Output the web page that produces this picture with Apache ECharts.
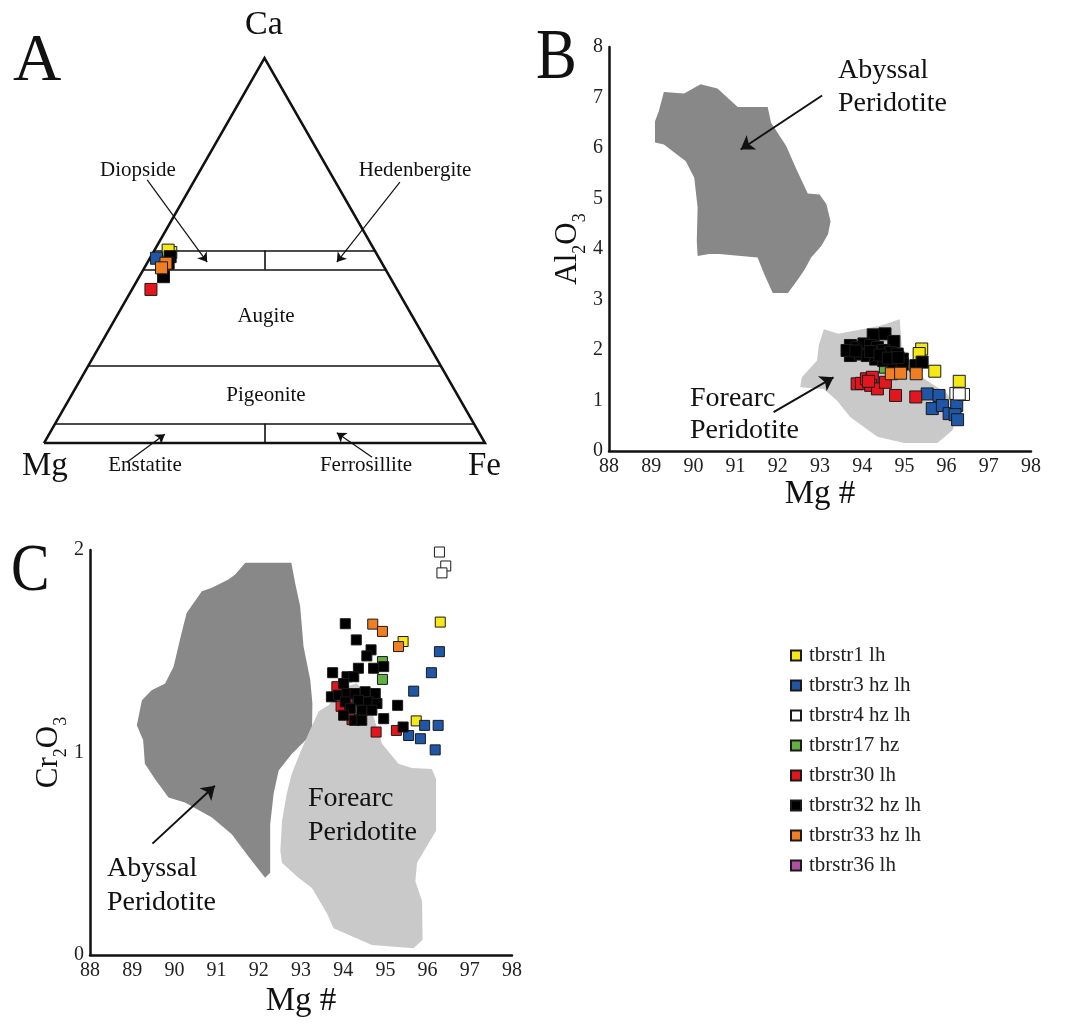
<!DOCTYPE html>
<html>
<head>
<meta charset="utf-8">
<script src="https://cdn.jsdelivr.net/npm/echarts@6/dist/echarts.min.js"></script>
<style>
  html, body { margin: 0; padding: 0; background: #fff; }
  #main { width: 1085px; height: 1025px; }
</style>
</head>
<body>
<div id="main"></div>
<script>
var myChart = echarts.init(document.getElementById('main'));
var SERIF = '"Liberation Serif", "Times New Roman", serif';

// samples (legend order) and their colours
var sampleNames = ['tbrstr1 lh', 'tbrstr3 hz lh', 'tbrstr4 hz lh', 'tbrstr17 hz',
                   'tbrstr30 lh', 'tbrstr32 hz lh', 'tbrstr33 hz lh', 'tbrstr36 lh'];
var sampleColors = ['#f6e817', '#1f56a6', '#ffffff', '#62b044',
                    '#e3161e', '#000000', '#f07e22', '#b04fa4'];

// A: pyroxene quadrilateral, compositions as [Ca, Mg, Fe]
var ternaryA = [
  [[0.495, 0.465, 0.040], [0.501, 0.468, 0.031]],
  [[0.480, 0.505, 0.015]],
  [],
  [],
  [[0.399, 0.558, 0.043]],
  [[0.484, 0.472, 0.044], [0.467, 0.485, 0.048], [0.432, 0.513, 0.055]],
  [[0.467, 0.490, 0.043], [0.455, 0.506, 0.039]],
  []
];
var triangleCorners = [[0, 1, 0], [0, 0, 1], [1, 0, 0], [0, 1, 0]];
var woBoundaries = [0.50, 0.45, 0.20, 0.05];
var tieLines = [
  [[0.45, 0.275, 0.275], [0.50, 0.25, 0.25]],
  [[0.00, 0.50, 0.50], [0.05, 0.475, 0.475]]
];
// arrows in the plane of the triangle (x along Mg-Fe, y height)
var arrowsA = [
  [[0.234, 0.592], [0.370, 0.407]],
  [[0.807, 0.587], [0.664, 0.407]],
  [[0.188, -0.043], [0.274, 0.020]],
  [[0.744, -0.032], [0.664, 0.023]]
];

// B: Mg# vs Al2O3
var mgAlB = [
  [[95.41, 2.02], [95.35, 1.93], [95.72, 1.58], [96.30, 1.38]],
  [[95.54, 1.13], [95.82, 1.10], [95.66, 0.84], [95.90, 0.90], [96.06, 0.74], [96.24, 0.90], [96.20, 0.72], [96.26, 0.62]],
  [[96.22, 1.14], [96.40, 1.12], [96.30, 1.13]],
  [[94.55, 1.66]],
  [[93.88, 1.33], [93.98, 1.34], [94.10, 1.43], [94.24, 1.46], [94.20, 1.30], [94.36, 1.23], [94.15, 1.38], [94.55, 1.36], [94.79, 1.10], [95.27, 1.07]],
  [[94.26, 2.30], [94.54, 2.32], [94.75, 2.17], [93.72, 2.09], [93.88, 2.05], [94.04, 2.12], [94.20, 2.09], [94.36, 2.05],
   [94.51, 1.99], [94.67, 1.95], [94.83, 1.92], [94.95, 1.82], [93.72, 1.89], [93.96, 1.92], [94.12, 1.89], [94.32, 1.82],
   [94.51, 1.79], [94.75, 1.76], [94.95, 1.72], [93.64, 1.99], [93.85, 1.98], [94.20, 1.97], [94.42, 1.90], [94.62, 1.84],
   [94.85, 1.85], [95.27, 1.69], [95.42, 1.76]],
  [[94.69, 1.53], [94.91, 1.54], [95.28, 1.53]],
  []
];
var abyssalB = [[89.30, 7.11], [89.78, 7.08], [90.17, 7.26], [90.57, 7.18], [91.05, 6.81], [91.76, 6.81], [91.84, 6.50],
  [92.20, 6.04], [92.44, 5.58], [92.71, 5.10], [92.99, 5.08], [93.15, 4.89], [93.25, 4.55], [93.19, 4.29], [93.03, 4.06],
  [92.79, 3.83], [92.64, 3.60], [92.48, 3.40], [92.24, 3.13], [91.88, 3.13], [91.68, 3.50], [91.52, 3.83], [90.61, 3.90],
  [90.37, 3.90], [90.10, 3.86], [90.08, 4.16], [90.10, 4.82], [90.02, 5.41], [89.82, 5.74], [89.30, 6.07], [89.09, 6.11],
  [89.09, 6.53], [89.18, 6.73]];
var forearcB = [[93.09, 2.41], [93.44, 2.32], [94.43, 2.48], [94.89, 2.61], [94.95, 1.92], [95.07, 1.66], [95.54, 1.39],
  [96.02, 1.13], [96.26, 0.74], [96.14, 0.41], [95.78, 0.16], [94.99, 0.16], [94.36, 0.28], [93.72, 0.67], [93.40, 1.00],
  [93.09, 1.23], [92.53, 1.26], [92.57, 1.46], [92.93, 1.79], [92.97, 2.09]];
var arrowsB = [
  [[93.05, 7.04], [91.12, 5.97]],
  [[91.90, 0.77], [93.32, 1.46]]
];

// C: Mg# vs Cr2O3
var mgCrC = [
  [[96.30, 1.644], [95.42, 1.548], [95.73, 1.156]],
  [[96.28, 1.498], [96.09, 1.394], [95.67, 1.303], [95.93, 1.134], [96.25, 1.134], [95.55, 1.084], [95.83, 1.068], [96.18, 1.013]],
  [[96.28, 1.990], [96.43, 1.921], [96.34, 1.887]],
  [[94.93, 1.449], [94.93, 1.361]],
  [[93.85, 1.325], [93.95, 1.228], [94.21, 1.162], [94.10, 1.270], [94.15, 1.200], [94.78, 1.101], [95.26, 1.109]],
  [[94.05, 1.636], [94.31, 1.556], [94.66, 1.507], [94.56, 1.477], [93.75, 1.394], [94.36, 1.416], [94.72, 1.416],
   [94.96, 1.424], [94.09, 1.374], [94.25, 1.374], [94.01, 1.341], [93.72, 1.275], [93.89, 1.283], [94.09, 1.291],
   [94.28, 1.291], [94.52, 1.300], [94.76, 1.291], [94.05, 1.250], [94.36, 1.258], [94.60, 1.250], [94.80, 1.242],
   [94.17, 1.217], [94.44, 1.209], [94.68, 1.209], [94.01, 1.184], [94.27, 1.159], [94.44, 1.159], [94.96, 1.167],
   [95.29, 1.233], [95.42, 1.126]],
  [[94.70, 1.634], [94.93, 1.598], [95.31, 1.523]],
  []
];
var abyssalC = [[91.68, 1.937], [92.77, 1.937], [92.86, 1.838], [92.98, 1.722], [93.06, 1.523], [93.22, 1.358],
  [93.27, 1.242], [93.26, 1.093], [92.78, 0.993], [92.47, 0.911], [92.35, 0.795], [92.27, 0.646], [92.27, 0.406],
  [92.15, 0.381], [91.75, 0.488], [91.36, 0.596], [90.89, 0.679], [90.25, 0.753], [89.86, 0.778], [89.54, 0.869],
  [89.30, 0.944], [89.26, 1.060], [89.11, 1.134], [89.23, 1.258], [89.46, 1.308], [89.78, 1.341], [89.98, 1.424],
  [90.13, 1.556], [90.21, 1.623], [90.29, 1.689], [90.65, 1.796], [90.89, 1.813], [91.28, 1.854], [91.44, 1.879]];
var forearcC = [[93.00, 1.010], [93.22, 1.113], [93.42, 1.204], [93.65, 1.233], [94.05, 1.325], [94.32, 1.341],
  [94.56, 1.291], [94.72, 1.175], [94.92, 1.043], [95.31, 0.944], [95.63, 0.924], [96.10, 0.919], [96.20, 0.869],
  [96.20, 0.613], [95.75, 0.455], [95.71, 0.364], [95.87, 0.265], [95.88, 0.075], [95.67, 0.033], [94.68, 0.050],
  [93.77, 0.132], [93.61, 0.207], [93.26, 0.331], [92.94, 0.381], [92.55, 0.455], [92.51, 0.513], [92.55, 0.662],
  [92.66, 0.795], [92.78, 0.894]];
var arrowsC = [
  [[89.48, 0.550], [90.96, 0.836]]
];

// ternary -> plane of the triangle
function tern(p) {
  var s = p[0] + p[1] + p[2];
  return [(p[2] + p[0] / 2) / s, (p[0] / s) * Math.sqrt(3) / 2];
}

function polygonSeries(pts, idx, fill) {
  return {
    type: 'custom', xAxisIndex: idx, yAxisIndex: idx, silent: true, z: 1,
    data: pts,
    renderItem: function (params, api) {
      if (params.dataIndex !== 0) return;
      return {
        type: 'polygon',
        shape: { points: pts.map(function (p) { return api.coord(p); }) },
        style: { fill: fill }
      };
    }
  };
}

function arrowSeries(list, idx, width, size) {
  return {
    type: 'lines', coordinateSystem: 'cartesian2d', xAxisIndex: idx, yAxisIndex: idx,
    silent: true, z: 3,
    symbol: ['none', 'arrow'], symbolSize: size,
    lineStyle: { color: '#111', width: width, opacity: 1 },
    data: list.map(function (a) { return { coords: a }; })
  };
}

var axisCommon = {
  axisLine: { show: true, onZero: false, lineStyle: { color: '#111', width: 2.5 } },
  axisTick: { show: false },
  splitLine: { show: false },
  axisLabel: { fontSize: 20, color: '#222', fontFamily: SERIF, margin: 6 }
};
function axis(extra) { return Object.assign({}, axisCommon, extra); }

var subRich = {
  n: { fontSize: 31, fontFamily: SERIF, color: '#111', lineHeight: 31, verticalAlign: 'top' },
  s: { fontSize: 18, fontFamily: SERIF, color: '#111', lineHeight: 18, padding: [19, 0, 0, 0], verticalAlign: 'top' }
};
var mgName = { fontSize: 33, fontFamily: SERIF, color: '#111' };

var series = [];

// panel A structure
series.push({
  type: 'lines', coordinateSystem: 'cartesian2d', xAxisIndex: 0, yAxisIndex: 0, silent: true, z: 2,
  polyline: true, lineStyle: { color: '#111', width: 2.5, opacity: 1 },
  data: [{ coords: triangleCorners.map(tern) }]
});
series.push({
  type: 'lines', coordinateSystem: 'cartesian2d', xAxisIndex: 0, yAxisIndex: 0, silent: true, z: 2,
  lineStyle: { color: '#111', width: 1.6, opacity: 1 },
  data: woBoundaries.map(function (w) { return { coords: [tern([w, 1 - w, 0]), tern([w, 0, 1 - w])] }; })
    .concat(tieLines.map(function (t) { return { coords: t.map(tern) }; }))
});
series.push(arrowSeries(arrowsA, 0, 1.2, 9));

// shaded fields
series.push(polygonSeries(abyssalB, 1, '#888888'));
series.push(polygonSeries(forearcB, 1, '#c9c9c9'));
series.push(polygonSeries(abyssalC, 2, '#888888'));
series.push(polygonSeries(forearcC, 2, '#c9c9c9'));
series.push(arrowSeries(arrowsB, 1, 2, 13));
series.push(arrowSeries(arrowsC, 2, 2, 13));

function sampleSeries(name, color, data, idx, size) {
  return {
    type: 'scatter', name: name, xAxisIndex: idx, yAxisIndex: idx, z: 5,
    symbol: 'rect', symbolSize: size,
    itemStyle: { color: color, borderColor: '#1a1a1a', borderWidth: 1, opacity: 1 },
    emphasis: { disabled: true },
    data: data
  };
}

sampleNames.forEach(function (name, i) {
  series.push(sampleSeries(name, sampleColors[i], mgCrC[i], 2, 10));
  series.push(sampleSeries(name, sampleColors[i], mgAlB[i], 1, 12));
  series.push(sampleSeries(name, sampleColors[i], ternaryA[i].map(tern), 0, 12));
});

function txt(text, x, y, size, align, sx) {
  return {
    type: 'text', x: x, y: y, z: 10, silent: true, scaleX: sx || 1,
    style: {
      text: text, fill: '#111', font: size + 'px ' + SERIF,
      textAlign: align || 'center', textVerticalAlign: 'middle',
      align: align || 'center', verticalAlign: 'middle'
    }
  };
}

var option = {
  animation: false,
  backgroundColor: '#ffffff',
  textStyle: { fontFamily: SERIF },
  grid: [
    { left: 44, right: 600, top: 42.9, bottom: 537.5 },
    { left: 609, right: 54, top: 47, bottom: 574 },
    { left: 90, right: 573, top: 550, bottom: 70 }
  ],
  xAxis: [
    { gridIndex: 0, type: 'value', min: 0, max: 1, show: false },
    axis({ gridIndex: 1, type: 'value', min: 88, max: 98, interval: 1,
      name: 'Mg #', nameLocation: 'middle', nameGap: 17, nameTextStyle: mgName }),
    axis({ gridIndex: 2, type: 'value', min: 88, max: 98, interval: 1,
      name: 'Mg #', nameLocation: 'middle', nameGap: 30, nameTextStyle: mgName })
  ],
  yAxis: [
    { gridIndex: 0, type: 'value', min: -0.1, max: 0.9, show: false },
    axis({ gridIndex: 1, type: 'value', min: 0, max: 8, interval: 1,
      name: '{n|Al}{s|2}{n|O}{s|3}', nameLocation: 'middle', nameGap: 20,
      nameTextStyle: { rich: subRich } }),
    axis({ gridIndex: 2, type: 'value', min: 0, max: 2, interval: 1,
      name: '{n|Cr}{s|2}{n|O}{s|3}', nameLocation: 'middle', nameGap: 22,
      nameTextStyle: { rich: subRich } })
  ],
  legend: {
    data: sampleNames,
    orient: 'vertical', left: 790, top: 645, padding: 0,
    icon: 'rect', itemWidth: 10, itemHeight: 10, itemGap: 9,
    selectedMode: false,
    textStyle: { fontSize: 21, lineHeight: 19, color: '#222', fontFamily: SERIF, padding: [0, 0, 0, 3] }
  },
  graphic: [
    txt('A', 13, 62, 67, 'left'),
    txt('B', 536, 59, 72, 'left', 0.85),
    txt('C', 11, 572, 68, 'left', 0.85),
    txt('Ca', 264, 25, 34),
    txt('Mg', 22, 466, 33, 'left'),
    txt('Fe', 468, 466, 33, 'left'),
    txt('Diopside', 138, 170, 21),
    txt('Hedenbergite', 415, 170, 21),
    txt('Augite', 266, 316, 21),
    txt('Pigeonite', 266, 395, 21),
    txt('Enstatite', 145, 465, 21),
    txt('Ferrosillite', 366, 465, 21),
    txt('Abyssal', 838, 70.5, 28, 'left'),
    txt('Peridotite', 838, 103.5, 28, 'left'),
    txt('Forearc', 690, 398.5, 28, 'left'),
    txt('Peridotite', 690, 431, 28, 'left'),
    txt('Forearc', 308, 798.5, 28, 'left'),
    txt('Peridotite', 308, 832.5, 28, 'left'),
    txt('Abyssal', 107, 868.5, 28, 'left'),
    txt('Peridotite', 107, 902.5, 28, 'left')
  ],
  series: series
};

myChart.setOption(option);
</script>
</body>
</html>
